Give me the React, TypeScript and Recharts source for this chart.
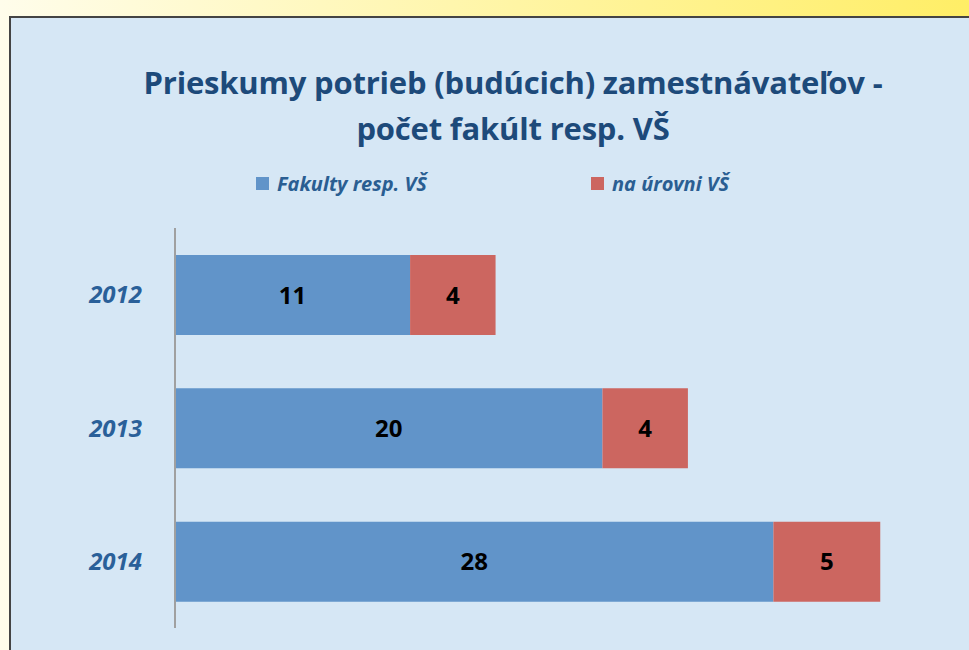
import { BarChart, Bar, XAxis, YAxis, LabelList } from 'recharts';

const years = ['2012', '2013', '2014'];
const fakulty = [11, 20, 28];
const naUrovniVS = [4, 4, 5];
const seriesNames = ['Fakulty resp. VŠ', 'na úrovni VŠ'];
const seriesColors = ['#6194c9', '#cc6660'];
const titleLines = ['Prieskumy potrieb (budúcich) zamestnávateľov -', 'počet fakúlt resp. VŠ'];

const data = years.map((y, i) => ({ year: y, a: fakulty[i], b: naUrovniVS[i] }));

const font = '"Open Sans", "Noto Sans", sans-serif';

export default function App() {
  return (
    <div style={{ position: 'absolute', left: 0, top: 0, width: 969, height: 650, overflow: 'hidden', fontFamily: font }}>
      <div style={{ position: 'absolute', left: 0, top: 0, width: 969, height: 650, background: 'linear-gradient(to right, #fffdeb, #ffee66)' }} />
      <div style={{ position: 'absolute', left: 9, top: 16, width: 980, height: 660, background: '#d6e7f5', borderLeft: '2px solid #444', borderTop: '2px solid #444', boxSizing: 'border-box' }} />
      <div style={{ position: 'absolute', left: 0, top: 59, width: 1026, textAlign: 'center', color: '#1d4a7a', fontWeight: 700, fontSize: 31, lineHeight: '46px', letterSpacing: -0.2 }}>
        {titleLines.map((t) => (
          <div key={t}>{t}</div>
        ))}
      </div>
      {seriesNames.map((n, i) => (
        <div key={n} style={{ position: 'absolute', left: i === 0 ? 256 : 591, top: 166, display: 'flex', alignItems: 'center', color: '#2a5e92', fontWeight: 700, fontStyle: 'italic', fontSize: 20, height: 34 }}>
          <span style={{ display: 'inline-block', width: 13, height: 13, background: seriesColors[i], marginRight: 8 }} />
          {n}
        </div>
      ))}
      <div style={{ position: 'absolute', left: 0, top: 0 }}>
        <BarChart width={969} height={650} data={data} layout="vertical" margin={{ top: 228, right: 46, bottom: 22, left: 0 }} barSize={80}>
          <XAxis type="number" domain={[0, 35]} hide />
          <YAxis
            type="category"
            dataKey="year"
            width={175}
            tickLine={false}
            tickSize={0}
            tickMargin={33}
            axisLine={{ stroke: '#a0a0a0', strokeWidth: 2 }}
            tick={{ fill: '#2a6099', fontSize: 24, fontWeight: 700, fontStyle: 'italic', fontFamily: font }}
          />
          <Bar dataKey="a" stackId="s" fill={seriesColors[0]} isAnimationActive={false}>
            <LabelList dataKey="a" position="center" fill="#000" fontSize={24} fontWeight={700} fontFamily={font} />
          </Bar>
          <Bar dataKey="b" stackId="s" fill={seriesColors[1]} isAnimationActive={false}>
            <LabelList dataKey="b" position="center" fill="#000" fontSize={24} fontWeight={700} fontFamily={font} />
          </Bar>
        </BarChart>
      </div>
    </div>
  );
}
